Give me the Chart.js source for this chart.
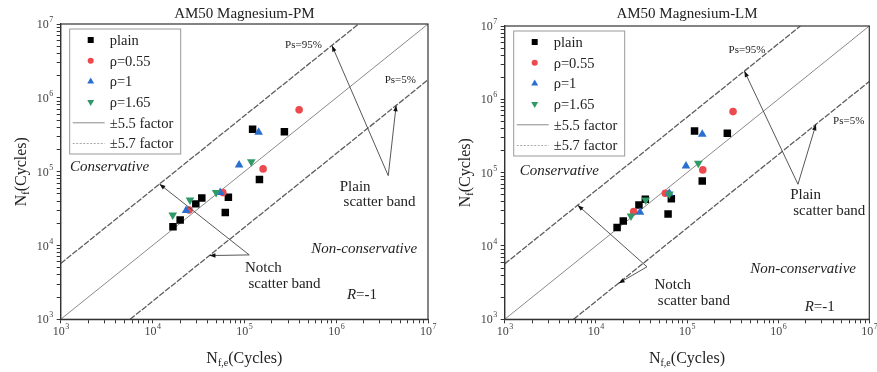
<!DOCTYPE html>
<html>
<head>
<meta charset="utf-8">
<script src="https://cdn.jsdelivr.net/npm/chart.js@4.4.0/dist/chart.umd.min.js"></script>
<style>
  body { margin: 0; background: #fff; width: 877px; height: 372px; position: relative; overflow: hidden; }
  .panel { position: absolute; top: 0; height: 372px; }
</style>
</head>
<body>
<div class="panel" style="left:0;width:438px"><canvas id="pm"></canvas></div>
<div class="panel" style="left:437px;width:440px"><canvas id="lm"></canvas></div>
<script>
/* ---- axis ticks ---- */
const DECADES = [1e3, 1e4, 1e5, 1e6, 1e7];
const MINOR_STEPS = [2, 3, 4, 5, 6, 7, 8, 9];

/* ---- scatter band lines: Nf = Nf,e and factor 5.7 either side ---- */
const MEAN_X = [1e3, 1e7];
const MEAN_Y = [1e3, 1e7];
const UPPER_X = [1e3, 1.754e6];
const UPPER_Y = [5.7e3, 1e7];
const LOWER_X = [5.7e3, 1e7];
const LOWER_Y = [1e3, 1.754e6];

/* ---- AM50 Magnesium-PM ---- */
const PM_PLAIN_X = [1.67e4, 2.0e4, 2.96e4, 3.44e4, 6.2e4, 6.7e4, 1.23e5, 1.46e5, 2.73e5];
const PM_PLAIN_Y = [1.8e4, 2.22e4, 3.66e4, 4.4e4, 2.79e4, 4.5e4, 3.76e5, 7.8e4, 3.46e5];
const PM_R055_X = [2.5e4, 5.83e4, 1.6e5, 3.95e5];
const PM_R055_Y = [3.03e4, 5.2e4, 1.09e5, 6.87e5];
const PM_R1_X = [2.32e4, 5.45e4, 8.77e4, 1.43e5];
const PM_R1_Y = [2.97e4, 5.2e4, 1.23e5, 3.43e5];
const PM_R165_X = [1.66e4, 2.56e4, 4.93e4, 1.19e5];
const PM_R165_Y = [2.59e4, 4.14e4, 5.2e4, 1.36e5];

/* ---- AM50 Magnesium-LM ---- */
const LM_PLAIN_X = [1.71e4, 2.0e4, 2.97e4, 3.49e4, 6.2e4, 6.73e4, 1.21e5, 1.47e5, 2.77e5];
const LM_PLAIN_Y = [1.78e4, 2.19e4, 3.62e4, 4.34e4, 2.73e4, 4.42e4, 3.7e5, 7.7e4, 3.45e5];
const LM_R055_X = [2.6e4, 5.78e4, 1.49e5, 3.2e5];
const LM_R055_Y = [2.94e4, 5.24e4, 1.09e5, 6.8e5];
const LM_R1_X = [3.05e4, 6.4e4, 9.75e4, 1.47e5];
const LM_R1_Y = [2.88e4, 5.24e4, 1.23e5, 3.34e5];
const LM_R165_X = [2.43e4, 3.52e4, 6.4e4, 1.33e5];
const LM_R165_Y = [2.57e4, 4.24e4, 5.12e4, 1.34e5];

const SERIF = '"Liberation Serif", "Times New Roman", serif';

const pts = (xs, ys) => xs.map((x, i) => ({ x, y: ys[i] }));

function tickList() {
  const out = [];
  DECADES.forEach((d, i) => {
    out.push({ value: d, major: true });
    if (i < DECADES.length - 1) MINOR_STEPS.forEach(s => out.push({ value: s * d, major: false }));
  });
  return out;
}

/* "10" with a raised exponent; anchor: 'center' (x axis) or 'right' (y axis) */
function drawPow(ctx, exp, x, y, anchor) {
  ctx.textBaseline = 'middle';
  ctx.textAlign = 'left';
  ctx.font = '12px ' + SERIF;
  const w1 = ctx.measureText('10').width;
  ctx.font = '8px ' + SERIF;
  const w2 = ctx.measureText(String(exp)).width;
  const sx = anchor === 'right' ? x - w1 - w2 : x - (w1 + w2) / 2;
  ctx.font = '12px ' + SERIF;
  ctx.fillText('10', sx, y);
  ctx.font = '8px ' + SERIF;
  ctx.fillText(String(exp), sx + w1 + 0.5, y - 5);
}

/* text with a subscript part, centred at (cx, cy) */
function drawSubText(ctx, parts, cx, cy) {
  let w = 0;
  parts.forEach(p => { ctx.font = p.size + 'px ' + SERIF; w += ctx.measureText(p.t).width; });
  let x = cx - w / 2;
  ctx.textAlign = 'left';
  ctx.textBaseline = 'alphabetic';
  parts.forEach(p => {
    ctx.font = p.size + 'px ' + SERIF;
    ctx.fillText(p.t, x, cy + 6 + (p.dy || 0));
    x += ctx.measureText(p.t).width;
  });
}

function arrow(ctx, x0, y0, x1, y1) {
  ctx.beginPath();
  ctx.moveTo(x0, y0);
  ctx.lineTo(x1, y1);
  ctx.stroke();
  const a = Math.atan2(y1 - y0, x1 - x0);
  const L = 6, W = 2.2;
  ctx.beginPath();
  ctx.moveTo(x1, y1);
  ctx.lineTo(x1 - L * Math.cos(a) + W * Math.sin(a), y1 - L * Math.sin(a) - W * Math.cos(a));
  ctx.lineTo(x1 - L * Math.cos(a) - W * Math.sin(a), y1 - L * Math.sin(a) + W * Math.cos(a));
  ctx.closePath();
  ctx.fill();
}

/* titles, frame, tick labels, legend, notes and arrows */
const panelDecor = {
  id: 'panelDecor',
  afterDraw(chart, args, o) {
    const { ctx, chartArea: a, scales: { x, y } } = chart;
    const cx = (a.left + a.right) / 2;
    ctx.save();
    ctx.fillStyle = '#222';

    // frame
    ctx.strokeStyle = '#333';
    ctx.lineWidth = 1.2;
    ctx.strokeRect(a.left, a.top, a.right - a.left, a.bottom - a.top);

    // decade labels
    ctx.fillStyle = '#444';
    DECADES.forEach(d => {
      const e = Math.round(Math.log10(d));
      drawPow(ctx, e, x.getPixelForValue(d), a.bottom + 13, 'center');
      drawPow(ctx, e, a.left - 8, y.getPixelForValue(d) + 1, 'right');
    });

    // title
    ctx.fillStyle = '#222';
    ctx.font = '15px ' + SERIF;
    ctx.textAlign = 'center';
    ctx.textBaseline = 'middle';
    ctx.fillText(o.title, cx, 14);

    // axis titles
    drawSubText(ctx, [{ t: 'N', size: 16 }, { t: 'f,e', size: 10, dy: 3 }, { t: '(Cycles)', size: 16 }], cx, 357);
    ctx.save();
    ctx.translate(a.left - 41, (a.top + a.bottom) / 2);
    ctx.rotate(-Math.PI / 2);
    drawSubText(ctx, [{ t: 'N', size: 16 }, { t: 'f', size: 10, dy: 3 }, { t: '(Cycles)', size: 16 }], 0, 0);
    ctx.restore();

    // arrows
    ctx.strokeStyle = '#444';
    ctx.fillStyle = '#111';
    ctx.lineWidth = 0.9;
    o.arrows.forEach(ar => {
      const vx = x.getPixelForValue(ar.from[0]), vy = y.getPixelForValue(ar.from[1]);
      ar.to.forEach(t => arrow(ctx, vx, vy, x.getPixelForValue(t[0]), y.getPixelForValue(t[1])));
    });

    // notes
    ctx.fillStyle = '#222';
    ctx.textBaseline = 'middle';
    o.notes.forEach(n => {
      const px = x.getPixelForValue(n.x), py = y.getPixelForValue(n.y);
      if (n.r) {
        ctx.font = 'italic 15px ' + SERIF;
        const w1 = ctx.measureText('R').width;
        ctx.font = '15px ' + SERIF;
        const w2 = ctx.measureText('=-1').width;
        const sx = px - (w1 + w2) / 2;
        ctx.textAlign = 'left';
        ctx.font = 'italic 15px ' + SERIF;
        ctx.fillText('R', sx, py);
        ctx.font = '15px ' + SERIF;
        ctx.fillText('=-1', sx + w1, py);
        return;
      }
      ctx.font = (n.italic ? 'italic ' : '') + (n.size || 15) + 'px ' + SERIF;
      ctx.textAlign = n.align || 'center';
      ctx.fillText(n.text, px, py);
    });

    // legend
    const lx = a.left + 9, ly = a.top + 5, lw = 111, lh = 125;
    ctx.fillStyle = '#fff';
    ctx.fillRect(lx, ly, lw, lh);
    ctx.strokeStyle = '#999';
    ctx.lineWidth = 1;
    ctx.strokeRect(lx, ly, lw, lh);
    const items = chart.data.datasets.filter(d => d.legendText).sort((p, q) => p.legendRank - q.legendRank);
    items.forEach((d, i) => {
      const iy = ly + 11 + i * 20.7;
      if (d.showLine) {
        ctx.strokeStyle = d.legendColor || d.borderColor;
        ctx.lineWidth = 1;
        ctx.setLineDash(d.legendDash || []);
        ctx.beginPath();
        ctx.moveTo(lx + 3, iy);
        ctx.lineTo(lx + 35, iy);
        ctx.stroke();
        ctx.setLineDash([]);
      } else {
        ctx.fillStyle = d.backgroundColor;
        ctx.strokeStyle = d.backgroundColor;
        Chart.helpers.drawPoint(ctx, { pointStyle: d.pointStyle, radius: d.pointRadius * 0.8, rotation: d.rotation || 0, borderWidth: 0 }, lx + 21, iy);
      }
      ctx.fillStyle = '#222';
      ctx.font = '14.5px ' + SERIF;
      ctx.textAlign = 'left';
      ctx.textBaseline = 'middle';
      ctx.fillText(d.legendText, lx + 40, iy + 1);
    });
    ctx.restore();
  }
};

function axis(afterFit) {
  return {
    type: 'logarithmic', min: 1e3, max: 1e7,
    afterBuildTicks: s => { s.ticks = tickList(); },
    afterFit,
    border: { display: true, color: '#333', width: 1.2 },
    grid: { drawOnChartArea: false, drawTicks: true, tickLength: 4, tickColor: '#333' },
    ticks: { autoSkip: false, maxRotation: 0, padding: 4, color: 'rgba(0,0,0,0)', font: { family: SERIF, size: 11 }, callback: () => '' }
  };
}

function makePanel(id, cfg) {
  const scatter = (label, data, style, color, radius, rank, extra) => Object.assign({
    type: 'scatter', data, pointStyle: style, backgroundColor: color, borderColor: color,
    pointRadius: radius, pointHoverRadius: radius, borderWidth: 0, order: 5 - rank,
    legendText: label, legendRank: rank
  }, extra || {});
  const band = (data, color, dash, width, legend) => Object.assign({
    type: 'line', data, borderColor: color, borderWidth: width, borderDash: dash,
    pointRadius: 0, showLine: true, fill: false, order: 10
  }, legend || {});

  new Chart(document.getElementById(id), {
    data: {
      datasets: [
        band(pts(MEAN_X, MEAN_Y), '#8a8a8a', [], 1, { legendText: '\u00b15.5 factor', legendRank: 5 }),
        band(pts(UPPER_X, UPPER_Y), '#5e5e5e', [6, 1.5], 1.3, { legendText: '\u00b15.7 factor', legendRank: 6, legendColor: '#aaa', legendDash: [2, 1.5] }),
        band(pts(LOWER_X, LOWER_Y), '#5e5e5e', [6, 1.5], 1.3),
        scatter('plain', pts(cfg.plainX, cfg.plainY), 'rect', '#000', 5.3, 1),
        scatter('\u03c1=0.55', pts(cfg.r055X, cfg.r055Y), 'circle', '#ec4a4e', 3.8, 2),
        scatter('\u03c1=1', pts(cfg.r1X, cfg.r1Y), 'triangle', '#2a6fd0', 5, 3),
        scatter('\u03c1=1.65', pts(cfg.r165X, cfg.r165Y), 'triangle', '#2f9a68', 5, 4, { rotation: 180 })
      ]
    },
    options: {
      responsive: true, maintainAspectRatio: false, animation: false,
      layout: { padding: { top: cfg.top, right: cfg.right, left: 0, bottom: 0 } },
      plugins: {
        legend: { display: false }, tooltip: { enabled: false },
        panelDecor: { title: cfg.title, notes: cfg.notes, arrows: cfg.arrows }
      },
      scales: {
        x: axis(s => { s.height = 372 - 319.3; }),
        y: axis(s => { s.width = cfg.left; })
      }
    },
    plugins: [panelDecor]
  });
}

makePanel('pm', {
  title: 'AM50 Magnesium-PM', top: 24, right: 10, left: 60.7,
  plainX: PM_PLAIN_X, plainY: PM_PLAIN_Y, r055X: PM_R055_X, r055Y: PM_R055_Y,
  r1X: PM_R1_X, r1Y: PM_R1_Y, r165X: PM_R165_X, r165Y: PM_R165_Y,
  notes: [
    { text: 'Ps=95%', x: 4.4e5, y: 5.2e6, size: 11 },
    { text: 'Ps=5%', x: 5.0e6, y: 1.75e6, size: 11 },
    { text: 'Conservative', x: 1.26e3, y: 1.14e5, italic: true, align: 'left' },
    { text: 'Non-conservative', x: 7.6e6, y: 8.97e3, italic: true, align: 'right' },
    { text: 'Plain', x: 1.61e6, y: 6.2e4 },
    { text: 'scatter band', x: 2.97e6, y: 3.85e4 },
    { text: 'Notch', x: 1.61e5, y: 4.96e3 },
    { text: 'scatter band', x: 2.74e5, y: 3.0e3 },
    { r: true, x: 1.91e6, y: 2.14e3 }
  ],
  arrows: [
    { from: [3.69e6, 8.83e4], to: [[9e5, 5.1e6], [4.5e6, 7.9e5]] },
    { from: [1.13e5, 7.45e3], to: [[1.19e4, 6.8e4], [4.17e4, 7.3e3]] }
  ]
});

makePanel('lm', {
  title: 'AM50 Magnesium-LM', top: 26, right: 7.7, left: 67.7,
  plainX: LM_PLAIN_X, plainY: LM_PLAIN_Y, r055X: LM_R055_X, r055Y: LM_R055_Y,
  r1X: LM_R1_X, r1Y: LM_R1_Y, r165X: LM_R165_X, r165Y: LM_R165_Y,
  notes: [
    { text: 'Ps=95%', x: 4.55e5, y: 4.72e6, size: 11 },
    { text: 'Ps=5%', x: 5.94e6, y: 5.12e5, size: 11 },
    { text: 'Conservative', x: 1.46e3, y: 1.06e5, italic: true, align: 'left' },
    { text: 'Non-conservative', x: 7.14e6, y: 4.8e3, italic: true, align: 'right' },
    { text: 'Plain', x: 2.0e6, y: 4.96e4 },
    { text: 'scatter band', x: 3.64e6, y: 3.03e4 },
    { text: 'Notch', x: 6.97e4, y: 2.94e3 },
    { text: 'scatter band', x: 1.19e5, y: 1.78e3 },
    { r: true, x: 2.86e6, y: 1.49e3 }
  ],
  arrows: [
    { from: [1.65e6, 6.95e4], to: [[4.26e5, 2.43e6], [2.6e6, 4.56e5]] },
    { from: [3.64e4, 5.2e3], to: [[6.32e3, 3.6e4], [1.78e4, 3.1e3]] }
  ]
});
</script>
</body>
</html>
